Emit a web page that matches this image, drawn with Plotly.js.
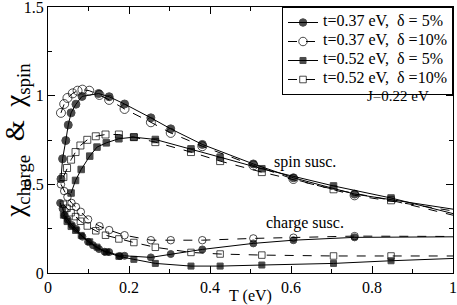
<!DOCTYPE html>
<html>
<head>
<meta charset="utf-8">
<script src="https://cdn.plot.ly/plotly-3.0.1.min.js"></script>
<style>html,body{margin:0;padding:0;background:#fff;}#chart{width:457px;height:305px;}</style>
</head>
<body>
<div id="chart"></div>
<script>
// t=0.37 eV, delta=5% (filled circles)
const spinA_T = [0.032, 0.036, 0.044, 0.050, 0.057, 0.069, 0.084, 0.125, 0.151, 0.189, 0.254, 0.303, 0.381, 0.507, 0.606, 0.757, 1.0];
const spinA_V = [0.530, 0.644, 0.747, 0.835, 0.903, 0.952, 0.996, 1.012, 0.994, 0.953, 0.875, 0.813, 0.725, 0.615, 0.537, 0.445, 0.360];
const chgA_T = [0.030, 0.036, 0.041, 0.049, 0.059, 0.070, 0.085, 0.099, 0.111, 0.126, 0.140, 0.151, 0.177, 0.189, 0.254, 0.303, 0.381, 0.507, 0.606, 0.757, 1.0];
const chgA_V = [0.395, 0.363, 0.325, 0.300, 0.270, 0.248, 0.205, 0.176, 0.157, 0.135, 0.120, 0.118, 0.096, 0.097, 0.088, 0.107, 0.133, 0.167, 0.185, 0.201, 0.204];
// t=0.37 eV, delta=10% (open circles)
const spinB_T = [0.032, 0.040, 0.048, 0.061, 0.073, 0.085, 0.102, 0.127, 0.151, 0.189, 0.254, 0.303, 0.381, 0.507, 0.606, 0.757, 1.0];
const spinB_V = [0.903, 0.953, 0.987, 1.013, 1.028, 1.034, 1.028, 1.004, 0.976, 0.925, 0.850, 0.790, 0.715, 0.607, 0.530, 0.438, 0.350];
const chgB_T = [0.032, 0.040, 0.048, 0.058, 0.069, 0.081, 0.099, 0.127, 0.151, 0.189, 0.254, 0.303, 0.381, 0.507, 0.606, 0.757, 1.0];
const chgB_V = [0.500, 0.462, 0.429, 0.395, 0.373, 0.345, 0.302, 0.264, 0.242, 0.213, 0.185, 0.185, 0.185, 0.195, 0.199, 0.208, 0.206];
// t=0.52 eV, delta=5% (filled squares)
const spinC_T = [0.057, 0.068, 0.082, 0.103, 0.121, 0.144, 0.175, 0.212, 0.265, 0.353, 0.425, 0.528, 0.705, 0.847, 1.0];
const spinC_V = [0.451, 0.522, 0.584, 0.659, 0.710, 0.734, 0.757, 0.766, 0.753, 0.700, 0.653, 0.588, 0.491, 0.423, 0.335];
const chgC_T = [0.038, 0.047, 0.057, 0.068, 0.082, 0.103, 0.121, 0.144, 0.175, 0.212, 0.265, 0.353, 0.425, 0.528, 0.705, 0.847, 1.0];
const chgC_V = [0.326, 0.290, 0.262, 0.240, 0.212, 0.176, 0.146, 0.118, 0.094, 0.077, 0.054, 0.039, 0.039, 0.045, 0.054, 0.069, 0.082];
// t=0.52 eV, delta=10% (open squares)
const spinD_T = [0.038, 0.047, 0.057, 0.068, 0.080, 0.097, 0.118, 0.142, 0.175, 0.212, 0.265, 0.353, 0.425, 0.528, 0.705, 0.847, 1.0];
const spinD_V = [0.541, 0.592, 0.639, 0.682, 0.719, 0.751, 0.771, 0.781, 0.781, 0.766, 0.738, 0.682, 0.631, 0.569, 0.472, 0.410, 0.326];
const chgD_T = [0.038, 0.047, 0.057, 0.068, 0.080, 0.097, 0.118, 0.142, 0.175, 0.212, 0.265, 0.353, 0.425, 0.528, 0.705, 0.847, 1.0];
const chgD_V = [0.388, 0.365, 0.340, 0.318, 0.292, 0.265, 0.238, 0.213, 0.192, 0.172, 0.145, 0.116, 0.107, 0.101, 0.096, 0.096, 0.096];

const legendNames = ["t=0.37 eV,\u00a0\u00a0\u03b4 = 5%", "t=0.37 eV,\u00a0\u00a0\u03b4 =10%", "t=0.52 eV,\u00a0\u00a0\u03b4 = 5%", "t=0.52 eV,\u00a0\u00a0\u03b4 =10%"];

const serif = "Liberation Serif";
function sizes(xs, s) { return xs.map(x => x >= 1 ? 0 : s); }
function mk(x, y, name, sym, size, dash, show) {
  return {
    x: x, y: y, type: 'scatter', mode: 'lines+markers',
    name: '<span style="font-size:16px">' + name + '</span>', showlegend: show,
    legendgroup: name,
    line: {color: 'black', width: 1, dash: dash},
    marker: {symbol: sym, size: sizes(x, size), color: 'black', line: {color: 'black', width: 1}}
  };
}
const data = [
  mk(spinA_T, spinA_V, legendNames[0], 'circle', 8, 'solid', true),
  mk(spinB_T, spinB_V, legendNames[1], 'circle-open', 9, 'dash', true),
  mk(spinC_T, spinC_V, legendNames[2], 'square', 6.5, 'solid', true),
  mk(spinD_T, spinD_V, legendNames[3], 'square-open', 7, 'dash', true),
  mk(chgA_T, chgA_V, legendNames[0], 'circle', 7, 'solid', false),
  mk(chgB_T, chgB_V, legendNames[1], 'circle-open', 7.5, 'dash', false),
  mk(chgC_T, chgC_V, legendNames[2], 'square', 6, 'solid', false),
  mk(chgD_T, chgD_V, legendNames[3], 'square-open', 6.5, 'dash', false)
];

const sp = '\u00a0\u00a0';
const layout = {
  width: 457, height: 305,
  margin: {l: 48, r: 4, t: 7, b: 32},
  paper_bgcolor: 'white', plot_bgcolor: 'white',
  font: {family: serif, color: 'black', size: 14},
  showlegend: true,
  legend: {x: 1, y: 1, xanchor: 'right', yanchor: 'top', bgcolor: 'white', bordercolor: 'black', borderwidth: 1,
           font: {family: serif, size: 10, color: 'black'}, tracegroupgap: 0, itemwidth: 30},
  xaxis: {
    range: [0, 1], tick0: 0, dtick: 0.2, ticks: 'inside', ticklen: 7, tickcolor: 'black',
    showline: true, linecolor: 'black', linewidth: 1, mirror: 'allticks', showgrid: false, zeroline: false,
    tickfont: {family: serif, size: 16, color: 'black'}, ticklabeloverflow: 'allow',
    minor: {dtick: 0.1, ticks: 'inside', ticklen: 4, tickcolor: 'black', showgrid: false},
    title: {text: 'T (eV)', font: {family: serif, size: 16, color: 'black'}, standoff: 0}
  },
  yaxis: {
    range: [0, 1.5], tick0: 0, dtick: 0.5, ticks: 'inside', ticklen: 7, tickcolor: 'black',
    showline: true, linecolor: 'black', linewidth: 1, mirror: 'allticks', showgrid: false, zeroline: false,
    tickfont: {family: serif, size: 16, color: 'black'}, ticklabeloverflow: 'allow',
    minor: {dtick: 0.25, ticks: 'inside', ticklen: 4, tickcolor: 'black', showgrid: false},
    title: {text: '\u03c7<sub>charge</sub>' + sp + '&' + sp + '\u03c7<sub>spin</sub>', font: {family: serif, size: 27, color: 'black'}, standoff: 2}
  },
  annotations: [
    {x: 0.865, y: 1.0, xref: 'x', yref: 'y', text: 'J=0.22 eV', showarrow: false, font: {family: serif, size: 15, color: 'black'}},
    {x: 0.635, y: 0.624, xref: 'x', yref: 'y', text: 'spin susc.', showarrow: false, font: {family: serif, size: 16, color: 'black'}},
    {x: 0.635, y: 0.281, xref: 'x', yref: 'y', text: 'charge susc.', showarrow: false, font: {family: serif, size: 16, color: 'black'}}
  ]
};
Plotly.newPlot('chart', data, layout, {staticPlot: true, displayModeBar: false});
</script>
</body>
</html>
